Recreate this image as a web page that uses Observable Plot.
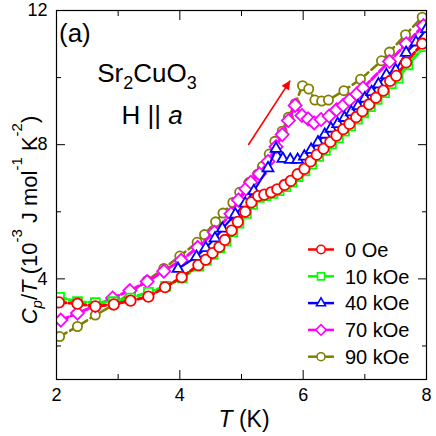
<!DOCTYPE html>
<html><head><meta charset="utf-8">
<script src="https://cdn.jsdelivr.net/npm/d3@7"></script>
<script src="https://cdn.jsdelivr.net/npm/@observablehq/plot@0.6"></script>
<style>body{margin:0;background:#fff}svg{display:block}</style>
</head><body><div id="chart"></div>
<script>
// ---- data ----
const seriesNames = ["0 Oe", "10 kOe", "40 kOe", "70 kOe", "90 kOe"];
const seriesColors = ["#ff0000", "#00ff00", "#0000ff", "#ff00ff", "#808000"];

const T_0 = [2.04,2.34,2.63,2.93,3.20,3.49,3.76,4.03,4.30,4.42,4.53,4.64,4.73,4.84,4.94,5.06,5.16,5.27,5.37,5.48,5.58,5.70,5.80,5.91,6.02,6.12,6.22,6.33,6.44,6.54,6.65,6.75,6.86,6.96,7.07,7.18,7.30,7.41,7.51,7.67,7.93];
const C_0 = [3.30,3.26,3.18,3.24,3.35,3.47,3.75,4.05,4.41,4.57,4.77,4.95,5.16,5.44,5.70,6.00,6.28,6.47,6.51,6.58,6.67,6.80,6.92,7.12,7.28,7.50,7.70,7.88,8.08,8.27,8.46,8.62,8.82,9.00,9.20,9.40,9.61,9.90,10.05,10.45,11.01];

const T_10 = [2.05,2.34,2.63,2.92,3.20,3.49,3.77,4.04,4.31,4.43,4.54,4.65,4.75,4.86,4.96,5.08,5.18,5.29,5.40,5.51,5.61,5.72,5.82,5.92,6.03,6.14,6.25,6.36,6.46,6.57,6.67,6.77,6.88,6.98,7.09,7.20,7.32,7.43,7.54,7.70,7.96];
const C_10 = [3.45,3.32,3.29,3.32,3.43,3.60,3.78,4.03,4.38,4.55,4.73,4.92,5.12,5.40,5.66,5.95,6.22,6.43,6.48,6.55,6.63,6.75,6.88,7.05,7.22,7.42,7.65,7.83,8.02,8.20,8.40,8.56,8.76,8.95,9.13,9.35,9.55,9.82,9.98,10.38,10.92];

const T_40 = [3.97,4.27,4.42,4.57,4.69,4.90,5.06,5.20,5.43,5.56,5.67,5.79,5.91,6.02,6.13,6.24,6.35,6.45,6.56,6.67,6.78,6.89,7.00,7.11,7.22,7.35,7.50,7.67,7.83,8.00];
const C_40 = [4.30,4.66,4.92,5.21,5.50,5.92,6.25,6.62,7.30,7.88,7.58,7.55,7.55,7.65,7.85,8.07,8.30,8.48,8.62,8.80,8.97,9.15,9.38,9.57,9.80,10.08,10.22,10.74,11.05,11.45];

const T_70 = [2.07,2.34,2.63,2.91,3.19,3.47,3.74,4.02,4.29,4.56,4.83,4.95,5.07,5.15,5.29,5.43,5.56,5.66,5.76,5.87,5.98,6.08,6.18,6.29,6.42,6.54,6.65,6.75,6.87,6.97,7.40,7.67,7.95];
const C_70 = [2.77,2.98,3.20,3.43,3.65,3.92,4.23,4.55,4.94,5.39,5.94,6.35,6.68,6.88,7.13,7.50,7.94,8.30,8.72,9.17,8.87,8.77,8.65,8.75,8.85,9.04,9.17,9.33,9.51,9.69,10.48,11.01,11.55];

const T_90 = [2.05,2.34,2.63,2.92,3.20,3.47,3.74,4.00,4.28,4.40,4.58,4.70,4.86,4.97,5.12,5.26,5.34,5.45,5.54,5.66,5.76,5.87,5.99,6.09,6.19,6.30,6.41,6.66,6.93,7.27,7.40,7.66,7.93];
const C_90 = [2.28,2.58,2.92,3.22,3.58,3.95,4.31,4.68,5.09,5.32,5.70,5.96,6.28,6.58,6.87,7.12,7.35,7.72,8.10,8.40,8.82,9.22,9.76,9.66,9.33,9.30,9.33,9.61,9.95,10.50,10.76,11.28,11.80];

const xMajorTicks = [2, 4, 6, 8];
const xMinorTicks = [3, 5, 7];
const yMajorTicks = [4, 8, 12];
const yMinorTicks = [2, 6, 10];

const arrowData = [{x1: 5.11, y1: 7.99, x2: 5.79, y2: 9.91}];

// ---- build ----
const seriesT = [T_0, T_10, T_40, T_70, T_90];
const seriesC = [C_0, C_10, C_40, C_70, C_90];
const symbols = [d3.symbolCircle, d3.symbolSquare, d3.symbolTriangle2, d3.symbolDiamond2, d3.symbolCircle];
const dotR = [5.2, 5.0, 5.2, 5.9, 4.6];
const legR = [4.2, 4.0, 4.3, 4.8, 4.0];
const dashes = ["7,3", "7,3", null, "8,3", "8,4"];
const lineW = [3, 3, 2.2, 3, 2.6];

const series = seriesNames.map((name, i) => ({
  name, color: seriesColors[i], symbol: symbols[i], r: dotR[i], dash: dashes[i], lw: lineW[i],
  data: seriesT[i].map((t, j) => ({T: t, C: seriesC[i][j]}))
}));

const marks = [];
for (const i of [4, 3, 2, 1, 0]) {
  const s = series[i];
  marks.push(Plot.line(s.data, {x: "T", y: "C", stroke: s.color, strokeWidth: s.lw, strokeDasharray: s.dash, clip: true}));
  marks.push(Plot.dot(s.data, {x: "T", y: "C", stroke: s.color, fill: "white", symbol: s.symbol, r: s.r, strokeWidth: 1.8, clip: true}));
}
marks.push(Plot.link(arrowData, {x1: "x1", y1: "y1", x2: "x2", y2: "y2", stroke: "#ff0000", strokeWidth: 1.6}));

const font = "'Liberation Sans', Arial, Helvetica, sans-serif";

const svg = Plot.plot({
  width: 436, height: 436,
  marginLeft: 56, marginRight: 10, marginTop: 10, marginBottom: 57,
  style: {fontFamily: font, fontSize: "18px", background: "white", color: "black"},
  x: {domain: [2, 8]},
  y: {domain: [1, 12]},
  marks: [
    ...marks,
    Plot.axisX(xMajorTicks, {anchor: "bottom", tickSize: 0, tickPadding: 9, fontSize: 18, label: null}),
    Plot.axisX(xMajorTicks, {anchor: "bottom", tickSize: -9, fill: "none", label: null}),
    Plot.axisX(xMinorTicks, {anchor: "bottom", tickSize: -5, fill: "none", label: null}),
    Plot.axisX(xMajorTicks, {anchor: "top", tickSize: -9, fill: "none", label: null}),
    Plot.axisX(xMinorTicks, {anchor: "top", tickSize: -5, fill: "none", label: null}),
    Plot.axisY(yMajorTicks, {anchor: "left", tickSize: 0, tickPadding: 9, fontSize: 18, label: null}),
    Plot.axisY(yMajorTicks, {anchor: "left", tickSize: -9, fill: "none", label: null}),
    Plot.axisY(yMinorTicks, {anchor: "left", tickSize: -5, fill: "none", label: null}),
    Plot.axisY(yMajorTicks, {anchor: "right", tickSize: -9, fill: "none", label: null}),
    Plot.axisY(yMinorTicks, {anchor: "right", tickSize: -5, fill: "none", label: null}),
    Plot.frame({stroke: "black", strokeWidth: 1.2})
  ]
});

const root = d3.select(svg);

// arrowhead
const defs = root.append("defs");
defs.append("marker").attr("id", "ahead").attr("viewBox", "0 0 10 10")
  .attr("refX", 10).attr("refY", 5).attr("markerUnits", "userSpaceOnUse")
  .attr("markerWidth", 13).attr("markerHeight", 9).attr("orient", "auto")
  .append("path").attr("d", "M0,0L10,5L0,10z").attr("fill", "#ff0000");
root.selectAll('g[aria-label="link"] path').attr("marker-end", "url(#ahead)");

// text helper
function rich(parent, parts, attrs) {
  const t = parent.append("text").attr("font-family", font).attr("fill", "black").attr("text-anchor", "start");
  for (const k in attrs) t.attr(k, attrs[k]);
  let shift = 0;
  for (const p of parts) {
    const ts = t.append("tspan").text(p.t);
    const target = p.sub ? p.sub : 0;
    if (target !== shift) { ts.attr("dy", target - shift); shift = target; }
    if (p.size) ts.attr("font-size", p.size);
    if (p.i) ts.attr("font-style", "italic");
  }
  return t;
}

// annotations
rich(root, [{t: "(a)"}], {x: 59, y: 42, "font-size": 26});
rich(root, [{t: "Sr"}, {t: "2", sub: 7, size: 18}, {t: "CuO"}, {t: "3", sub: 7, size: 18}],
  {x: 147, y: 82, "font-size": 26, "text-anchor": "middle"});
rich(root, [{t: "H || "}, {t: "a", i: true}], {x: 152, y: 124, "font-size": 26, "text-anchor": "middle"});

// axis titles
rich(root, [{t: "T", i: true}, {t: " (K)"}], {x: 244, y: 427, "font-size": 23, "text-anchor": "middle"});
rich(root, [
  {t: "C", i: true}, {t: "p", i: true, sub: 5, size: 15}, {t: "/"}, {t: "T", i: true}, {t: " (10"},
  {t: "-3", sub: -15, size: 15}, {t: " J mol"}, {t: "-1", sub: -15, size: 15}, {t: " K"},
  {t: "-2", sub: -15, size: 15}, {t: ")"}
], {transform: "translate(37,220) rotate(-90)", "font-size": 22, "text-anchor": "middle"});

// legend
const leg = root.append("g");
series.forEach((s, i) => {
  const cy = 249.5 + i * 26.8;
  leg.append("line").attr("x1", 308).attr("x2", 334).attr("y1", cy).attr("y2", cy)
    .attr("stroke", s.color).attr("stroke-width", 2.5);
  leg.append("path").attr("d", d3.symbol(s.symbol, Math.PI * legR[i] * legR[i])())
    .attr("transform", `translate(321,${cy})`).attr("fill", "white")
    .attr("stroke", s.color).attr("stroke-width", 1.6);
  leg.append("text").attr("x", 345).attr("y", cy).attr("dy", "0.36em").attr("text-anchor", "start")
    .attr("font-family", font).attr("font-size", 20).attr("fill", "black").text(s.name);
});

document.getElementById("chart").appendChild(svg);
</script>
</body></html>
